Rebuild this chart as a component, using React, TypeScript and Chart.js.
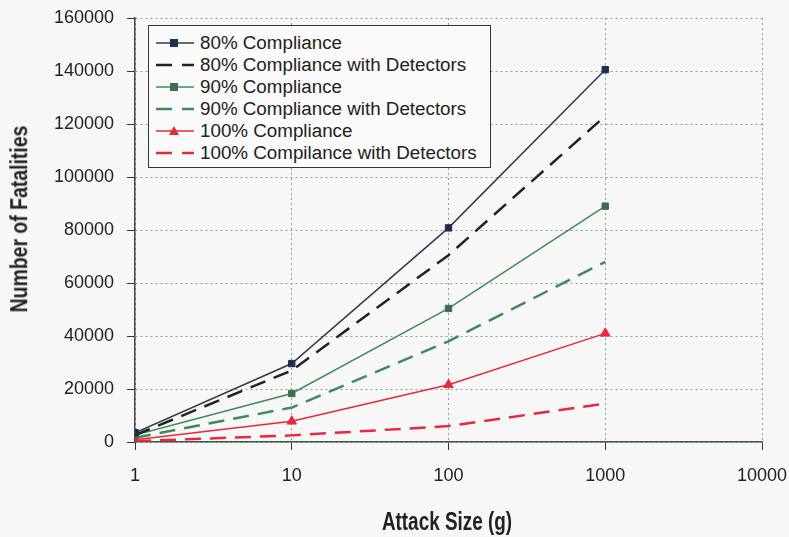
import React, { useEffect, useRef } from "react";
import { Chart, registerables } from "chart.js";

Chart.register(...registerables);

const attackSizes = [1, 10, 100, 1000];
const xTickValues = [1, 10, 100, 1000, 10000];
const yTickValues = [0, 20000, 40000, 60000, 80000, 100000, 120000, 140000, 160000];

const c80 = [3500, 29600, 80800, 140500];
const c80Det = [2600, 27000, 70500, 123000];
const c90 = [2600, 18300, 50400, 89000];
const c90Det = [1600, 13000, 38000, 68000];
const c100 = [800, 7800, 21600, 41000];
const c100Det = [300, 2500, 6000, 14500];

const seriesNames = [
  "80% Compliance",
  "80% Compliance with Detectors",
  "90% Compliance",
  "90% Compliance with Detectors",
  "100% Compliance",
  "100% Compilance with Detectors",
];

const FONT = "'Liberation Sans', Arial, sans-serif";

type LegendItem = { name: string; color: string; marker: string; markerColor: string; dashed: boolean };

const legendItems: LegendItem[] = [
  { name: seriesNames[0], color: "#333a45", marker: "rect", markerColor: "#1f2d52", dashed: false },
  { name: seriesNames[1], color: "#222222", marker: "", markerColor: "", dashed: true },
  { name: seriesNames[2], color: "#3f8a58", marker: "rect", markerColor: "#3d6e50", dashed: false },
  { name: seriesNames[3], color: "#3f8a58", marker: "", markerColor: "", dashed: true },
  { name: seriesNames[4], color: "#e8283c", marker: "triangle", markerColor: "#e8283c", dashed: false },
  { name: seriesNames[5], color: "#e8283c", marker: "", markerColor: "", dashed: true },
];

export default function App() {
  const ref = useRef<HTMLCanvasElement | null>(null);

  useEffect(() => {
    if (!ref.current) return;
    const mk = (i: number, data: number[], width: number) => {
      const it = legendItems[i];
      return {
        label: it.name,
        data: attackSizes.map((x, k) => ({ x, y: data[k] })),
        borderColor: it.color,
        backgroundColor: it.markerColor || it.color,
        borderWidth: width,
        borderDash: it.dashed ? [16, 9] : [],
        pointStyle: it.marker || false,
        pointRadius: it.marker ? (it.marker === "triangle" ? 5.5 : 4.5) : 0,
        pointBorderColor: it.markerColor || it.color,
        pointBackgroundColor: it.markerColor || it.color,
        pointBorderWidth: 1,
        fill: false,
        tension: 0,
      };
    };
    const gridOpts = () => ({
      color: "#7fa39a",
      lineWidth: 1,
      tickColor: "#333",
      tickLength: 8,
      tickWidth: 1,
      tickBorderDash: [],
    });
    const chart = new Chart(ref.current, {
      type: "line",
      data: {
        datasets: [
          mk(0, c80, 1.5),
          mk(1, c80Det, 2.5),
          mk(2, c90, 1.5),
          mk(3, c90Det, 2.5),
          mk(4, c100, 1.5),
          mk(5, c100Det, 2.5),
        ],
      },
      options: {
        animation: false,
        responsive: false,
        layout: { padding: { left: 0, right: 27, top: 18, bottom: 0 } },
        plugins: { legend: { display: false }, tooltip: { enabled: false } },
        scales: {
          x: {
            type: "logarithmic",
            min: 1,
            max: 10000,
            afterBuildTicks: (s: any) => {
              s.ticks = xTickValues.map((v) => ({ value: v }));
            },
            afterFit: (s: any) => {
              s.height = 95;
              s.paddingRight = 0;
              s.paddingLeft = 0;
            },
            ticks: {
              color: "#222",
              font: { family: FONT, size: 18 },
              padding: 15,
              maxRotation: 0,
              autoSkip: false,
              callback: (v: any) => String(v),
            },
            grid: gridOpts(),
            border: { color: "#3c5a47", width: 1.5, dash: [2, 3] },
          },
          y: {
            min: 0,
            max: 160000,
            afterBuildTicks: (s: any) => {
              s.ticks = yTickValues.map((v) => ({ value: v }));
            },
            afterFit: (s: any) => {
              s.width = 135;
              s.paddingTop = 0;
              s.paddingBottom = 0;
            },
            ticks: {
              color: "#222",
              font: { family: FONT, size: 18 },
              padding: 13,
              callback: (v: any) => String(v),
            },
            grid: gridOpts(),
            border: { color: "#3c4a44", width: 1.5, dash: [2, 3] },
          },
        },
      },
    } as any);
    return () => chart.destroy();
  }, []);

  return (
    <div
      style={{
        position: "fixed",
        left: 0,
        top: 0,
        width: 789,
        height: 537,
        background: "#f7f7f7",
        fontFamily: FONT,
      }}
    >
      <canvas ref={ref} width={789} height={537} style={{ position: "absolute", left: 0, top: 0 }} />
      <div
        style={{
          position: "absolute",
          left: 148,
          top: 25,
          width: 343,
          height: 143,
          border: "1.5px solid #2f3a35",
          background: "#fafafa",
          boxSizing: "border-box",
          padding: "6px 0 0 4px",
        }}
      >
        {legendItems.map((it, i) => (
          <div key={i} style={{ display: "flex", alignItems: "center", height: 22, fontSize: 18.8, color: "#222" }}>
            <svg width={44} height={14} style={{ flex: "none" }}>
              <line
                x1={3}
                y1={7}
                x2={41}
                y2={7}
                stroke={it.color}
                strokeWidth={it.dashed ? 2.5 : 1.5}
                strokeDasharray={it.dashed ? "16 10" : undefined}
              />
              {it.marker === "rect" && <rect x={17} y={3} width={8} height={8} fill={it.markerColor} />}
              {it.marker === "triangle" && <polygon points="21,2 26,11 16,11" fill={it.markerColor} />}
            </svg>
            <span style={{ marginLeft: 3, whiteSpace: "nowrap" }}>{it.name}</span>
          </div>
        ))}
      </div>
      <div
        style={{
          position: "absolute",
          left: 447,
          top: 511.5,
          height: 18,
          lineHeight: "18px",
          transform: "translateX(-50%) scale(1.05, 1.42)",
          fontSize: 18,
          fontWeight: "bold",
          color: "#222",
          whiteSpace: "nowrap",
        }}
      >
        Attack Size (g)
      </div>
      <div
        style={{
          position: "absolute",
          left: 19,
          top: 219,
          lineHeight: "18px",
          transform: "translate(-50%, -50%) rotate(-90deg) scale(1.08, 1.38)",
          fontSize: 18,
          fontWeight: "bold",
          color: "#222",
          whiteSpace: "nowrap",
        }}
      >
        Number of Fatalities
      </div>
    </div>
  );
}
